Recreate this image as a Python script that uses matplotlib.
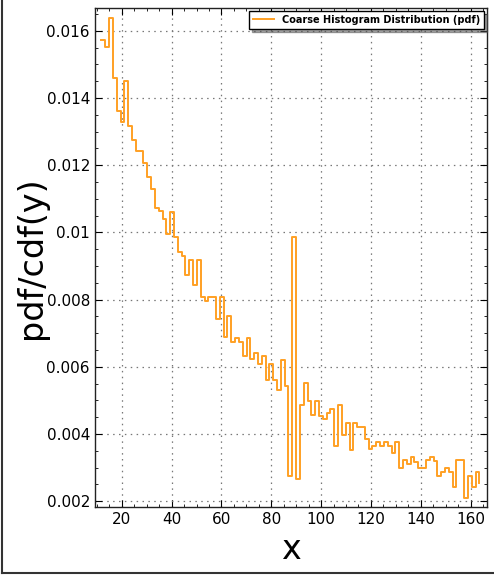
import matplotlib
matplotlib.use('Agg')
import matplotlib.pyplot as plt
import numpy as np
from matplotlib.lines import Line2D
from matplotlib.ticker import MultipleLocator, FuncFormatter

# bin positions (first and last bin) and pdf heights
X_FIRST = 11.85
X_LAST = 163.5
pdf_values = [
    0.01573, 0.01551, 0.01639, 0.01461, 0.01362, 0.01328, 0.01451, 0.01318, 0.01274, 0.01241,
    0.01241, 0.01207, 0.01164, 0.01128, 0.01073, 0.01063, 0.01041, 0.00996, 0.01062, 0.00986,
    0.00943, 0.00929, 0.00874, 0.00917, 0.00842, 0.00917, 0.00809, 0.00797, 0.00807, 0.00807,
    0.00741, 0.00807, 0.00688, 0.00751, 0.00673, 0.00686, 0.00673, 0.00631, 0.00686, 0.00622,
    0.00642, 0.00609, 0.00632, 0.00562, 0.00609, 0.00562, 0.00532, 0.00619, 0.00542, 0.00276,
    0.00986, 0.00266, 0.00487, 0.00552, 0.00497, 0.00455, 0.00497, 0.00453, 0.00443, 0.00463,
    0.00475, 0.00363, 0.00487, 0.00397, 0.00432, 0.00353, 0.00433, 0.00420, 0.00420, 0.00385,
    0.00356, 0.00364, 0.00375, 0.00364, 0.00375, 0.00363, 0.00342, 0.00375, 0.00299, 0.00321,
    0.00309, 0.00330, 0.00316, 0.00299, 0.00299, 0.00321, 0.00330, 0.00319, 0.00276, 0.00286,
    0.00298, 0.00286, 0.00243, 0.00321, 0.00321, 0.00210, 0.00274, 0.00243, 0.00286, 0.00254,
]
x_ticks = [20, 40, 60, 80, 100, 120, 140, 160]
y_ticks = [0.002, 0.004, 0.006, 0.008, 0.01, 0.012, 0.014, 0.016]

bin_x = np.linspace(X_FIRST, X_LAST, len(pdf_values))

fig = plt.figure(figsize=(4.94, 5.75), dpi=100)
ax = fig.add_axes([0.192, 0.118, 0.794, 0.868])

ax.plot(bin_x, pdf_values, drawstyle='steps-post', color='#ffa024', lw=1.4,
        label='Coarse Histogram Distribution (pdf)')

ax.set_xlim(9.2, 166.6)
ax.set_ylim(0.00182, 0.01668)
ax.set_xticks(x_ticks)
ax.set_yticks(y_ticks)
ax.xaxis.set_minor_locator(MultipleLocator(5))
ax.yaxis.set_minor_locator(MultipleLocator(0.0005))
ax.yaxis.set_major_formatter(FuncFormatter(lambda v, p: '%g' % v))
ax.tick_params(which='both', direction='in', top=True, right=True, labelsize=11)
ax.tick_params(which='major', length=5, width=0.8)
ax.tick_params(which='minor', length=2.5, width=0.6)
ax.grid(True, color='#777777', linestyle=(0, (1.2, 3.5)), linewidth=0.9)
for s in ax.spines.values():
    s.set_linewidth(1.0)
    s.set_color('#222222')

ax.set_xlabel('x', fontsize=24)
ax.set_ylabel('pdf/cdf(y)', fontsize=24, labelpad=-1)

leg = ax.legend(loc='upper right', prop={'weight': 'bold', 'size': 7},
                shadow=True, fancybox=False, borderaxespad=0.3, handlelength=2.2)
leg.get_frame().set_edgecolor('black')
leg.get_frame().set_linewidth(1.0)

# frame left and bottom of the figure
fig.add_artist(Line2D([0.005, 0.005], [0.003, 1.0], transform=fig.transFigure, color='#333333', lw=1.5))
fig.add_artist(Line2D([0.005, 1.0], [0.003, 0.003], transform=fig.transFigure, color='#333333', lw=1.5))

fig.savefig('out.png', dpi=100)
